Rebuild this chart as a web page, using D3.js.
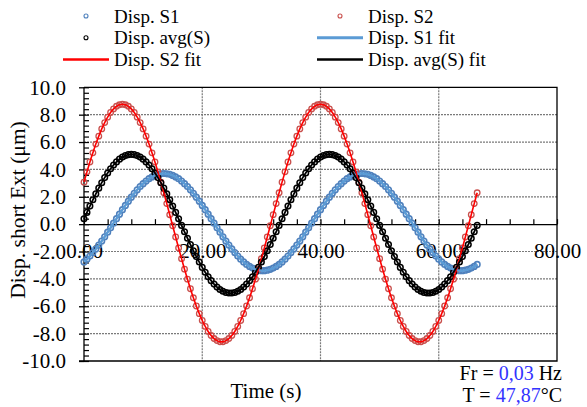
<!DOCTYPE html>
<html><head><meta charset="utf-8">
<script src="https://cdn.jsdelivr.net/npm/d3@7"></script>
<style>
body{margin:0;background:#fff}
svg{display:block}
text{font-family:"Liberation Serif","Times New Roman",serif;fill:#000}
</style>
</head><body>
<svg id="chart" width="587" height="407"></svg>
<script>
// ---------- data ----------
const sampleStep = 0.5; // seconds between samples, starting at t = 0
const dispS1 = [
-2.76,-2.56,-2.33,-2.08,-1.81,-1.53,-1.23,-0.92,-0.59,-0.27,
0.07,0.40,0.73,1.06,1.37,1.68,1.97,2.25,2.51,2.75,
2.96,3.15,3.32,3.45,3.56,3.64,3.68,3.70,3.68,3.64,
3.56,3.45,3.32,3.15,2.96,2.75,2.51,2.25,1.97,1.68,
1.37,1.06,0.73,0.40,0.07,-0.27,-0.59,-0.92,-1.23,-1.53,
-1.81,-2.08,-2.33,-2.56,-2.76,-2.94,-3.09,-3.21,-3.30,-3.36,
-3.40,-3.40,-3.36,-3.30,-3.21,-3.09,-2.94,
-2.76,-2.56,-2.33,-2.08,-1.81,-1.53,-1.23,-0.92,-0.59,-0.27,
0.07,0.40,0.73,1.06,1.37,1.68,1.97,2.25,2.51,2.75,
2.96,3.15,3.32,3.45,3.56,3.64,3.68,3.70,3.68,3.64,
3.56,3.45,3.32,3.15,2.96,2.75,2.51,2.25,1.97,1.68,
1.37,1.06,0.73,0.40,0.07,-0.27,-0.59,-0.92,-1.23,-1.53,
-1.81,-2.08,-2.33,-2.56,-2.76,-2.94,-3.09,-3.21,-3.30,-3.36,
-3.40,-3.40,-3.36,-3.30,-3.21,-3.09,-2.94
];
const dispS2 = [
3.07,3.82,4.54,5.21,5.85,6.43,6.96,7.42,7.82,8.16,
8.42,8.61,8.72,8.76,8.72,8.61,8.42,8.16,7.82,7.42,
6.96,6.43,5.85,5.21,4.54,3.82,3.07,2.29,1.50,0.69,
-0.12,-0.94,-1.74,-2.52,-3.29,-4.02,-4.72,-5.38,-5.98,-6.54,
-7.04,-7.47,-7.84,-8.14,-8.36,-8.51,-8.59,-8.59,-8.51,-8.36,
-8.14,-7.84,-7.47,-7.04,-6.54,-5.98,-5.38,-4.72,-4.02,-3.29,
-2.52,-1.74,-0.94,-0.12,0.69,1.50,2.29,
3.07,3.82,4.54,5.21,5.85,6.43,6.96,7.42,7.82,8.16,
8.42,8.61,8.72,8.76,8.72,8.61,8.42,8.16,7.82,7.42,
6.96,6.43,5.85,5.21,4.54,3.82,3.07,2.29,1.50,0.69,
-0.12,-0.94,-1.74,-2.52,-3.29,-4.02,-4.72,-5.38,-5.98,-6.54,
-7.04,-7.47,-7.84,-8.14,-8.36,-8.51,-8.59,-8.59,-8.51,-8.36,
-8.14,-7.84,-7.47,-7.04,-6.54,-5.98,-5.38,-4.72,-4.02,-3.29,
-2.52,-1.74,-0.94,-0.12,0.69,1.50,2.29
];
const dispAvg = [
0.39,0.86,1.32,1.78,2.21,2.63,3.03,3.40,3.74,4.05,
4.32,4.55,4.75,4.90,5.01,5.08,5.10,5.08,5.01,4.90,
4.75,4.55,4.32,4.05,3.74,3.40,3.03,2.63,2.21,1.78,
1.32,0.86,0.39,-0.09,-0.56,-1.03,-1.49,-1.94,-2.37,-2.77,
-3.16,-3.51,-3.84,-4.13,-4.38,-4.60,-4.77,-4.90,-4.99,-5.03,
-5.03,-4.99,-4.90,-4.77,-4.60,-4.38,-4.13,-3.84,-3.51,-3.16,
-2.77,-2.37,-1.94,-1.49,-1.03,-0.56,-0.09,
0.39,0.86,1.32,1.78,2.21,2.63,3.03,3.40,3.74,4.05,
4.32,4.55,4.75,4.90,5.01,5.08,5.10,5.08,5.01,4.90,
4.75,4.55,4.32,4.05,3.74,3.40,3.03,2.63,2.21,1.78,
1.32,0.86,0.39,-0.09,-0.56,-1.03,-1.49,-1.94,-2.37,-2.77,
-3.16,-3.51,-3.84,-4.13,-4.38,-4.60,-4.77,-4.90,-4.99,-5.03,
-5.03,-4.99,-4.90,-4.77,-4.60,-4.38,-4.13,-3.84,-3.51,-3.16,
-2.77,-2.37,-1.94,-1.49,-1.03,-0.56,-0.09
];
const xTickValues = [0, 20, 40, 60, 80];
const yTickValues = [-10, -8, -6, -4, -2, 0, 2, 4, 6, 8, 10];
const legendLabels = ["Disp. S1", "Disp. S2", "Disp. avg(S)", "Disp. S1 fit", "Disp. S2 fit", "Disp. avg(S) fit"];
const xTitle = "Time (s)";
const yTitle = "Disp. short Ext (\u03BCm)";
const freqText = ["Fr = ", "0,03", " Hz"];
const tempText = ["T = ", "47,87", "\u00B0C"];

// ---------- drawing ----------
const svg = d3.select("#chart");
const x = d3.scaleLinear().domain([0, 80]).range([84, 557]);
const y = d3.scaleLinear().domain([-10, 10]).range([361, 87.3]);
const tOf = i => i * sampleStep;

const C = {
  s1m: "#4F81BD", s2m: "#C9504D", avm: "#000000",
  s1f: "#5B9BD5", s2f: "#FF0000", avf: "#000000",
  grid: "#7a7a7a", blue: "#3333FF"
};

// grid lines
const grid = svg.append("g");
grid.selectAll("line.h").data(yTickValues.filter(v => v !== 0 && Math.abs(v) !== 10))
  .enter().append("line")
  .attr("x1", x(0)).attr("x2", x(80))
  .attr("y1", d => y(d)).attr("y2", d => y(d))
  .attr("stroke", C.grid).attr("stroke-width", 1.2).attr("stroke-dasharray", "2,1");
grid.selectAll("line.v").data(xTickValues.filter(v => v !== 0 && v !== 80))
  .enter().append("line")
  .attr("x1", d => x(d)).attr("x2", d => x(d))
  .attr("y1", y(10)).attr("y2", y(-10))
  .attr("stroke", C.grid).attr("stroke-width", 1.2).attr("stroke-dasharray", "2,1");

// border (top, right, bottom)
svg.append("path")
  .attr("d", `M${x(0)},${y(10)}H${x(80)}V${y(-10)}H${x(0) - 5}`)
  .attr("fill", "none").attr("stroke", "#000").attr("stroke-width", 1.3);

// y axis
const yAxis = svg.append("g").attr("transform", `translate(${x(0)},0)`)
  .call(d3.axisLeft(y).tickValues(yTickValues).tickFormat(d => d.toFixed(1))
    .tickSize(5).tickSizeOuter(0).tickPadding(13));
yAxis.selectAll("text").style("font-size", "21px").attr("fill", "#000");
yAxis.selectAll("line, path").attr("stroke", "#000").attr("stroke-width", 1.3);
yAxis.select(".domain").attr("d", `M0,${y(10)}V${y(-10)}`);
const yMinor = svg.append("g").attr("transform", `translate(${x(0)},0)`)
  .call(d3.axisRight(y).tickValues(d3.range(-10, 10.001, 0.4)).tickSize(5).tickFormat(""));
yMinor.select(".domain").remove();
yMinor.selectAll("line").attr("stroke", "#000").attr("stroke-width", 1.2);

// x axis at zero
const xAxis = svg.append("g").attr("transform", `translate(0,${y(0)})`)
  .call(d3.axisBottom(x).tickValues(xTickValues).tickFormat(d => d.toFixed(2))
    .tickSize(0).tickSizeOuter(0).tickPadding(19));
xAxis.selectAll("text").style("font-size", "21px").attr("fill", "#000");
xAxis.select(".domain").attr("stroke", "#000").attr("stroke-width", 1.3);
const xMinor = svg.append("g").attr("transform", `translate(0,${y(0)})`)
  .call(d3.axisTop(x).tickValues(d3.range(0, 80.001, 4)).tickSize(5).tickFormat(""));
xMinor.select(".domain").remove();
xMinor.selectAll("line").attr("stroke", "#000").attr("stroke-width", 1.2);

// series
const plot = svg.append("g");
function markers(data, color, sw) {
  plot.append("g").selectAll("circle").data(data).enter().append("circle")
    .attr("cx", (d, i) => x(tOf(i))).attr("cy", d => y(d)).attr("r", 2.8)
    .attr("fill", "none").attr("stroke", color).attr("stroke-width", sw);
}
const lineGen = d3.line().x((d, i) => x(tOf(i))).y(d => y(d)).curve(d3.curveCatmullRom);
function fit(data, color, w) {
  plot.append("path").datum(data).attr("d", lineGen)
    .attr("fill", "none").attr("stroke", color).attr("stroke-width", w);
}
markers(dispS1, C.s1m, 1.6);
markers(dispS2, C.s2m, 1.3);
markers(dispAvg, C.avm, 1.5);
fit(dispS1, C.s1f, 2.5);
fit(dispS2, C.s2f, 1.6);
fit(dispAvg, C.avf, 1.8);

// legend
const legStyles = [
  {kind: "m", color: C.s1m}, {kind: "m", color: C.s2m}, {kind: "m", color: C.avm},
  {kind: "l", color: C.s1f, w: 3}, {kind: "l", color: C.s2f, w: 2.5}, {kind: "l", color: C.avf, w: 2.5}
];
const colX = [86, 340], rowY = [16, 37.7, 59.4];
const leg = svg.append("g");
legendLabels.forEach((lab, i) => {
  const cx = colX[i % 2], cy = rowY[Math.floor(i / 2)], st = legStyles[i];
  if (st.kind === "m") {
    leg.append("circle").attr("cx", cx).attr("cy", cy).attr("r", 2)
      .attr("fill", "none").attr("stroke", st.color).attr("stroke-width", 1.1);
  } else {
    leg.append("line").attr("x1", cx - 23).attr("x2", cx + 23).attr("y1", cy).attr("y2", cy)
      .attr("stroke", st.color).attr("stroke-width", st.w);
  }
  leg.append("text").attr("x", cx + 28).attr("y", cy + 6.7)
    .style("font-size", "19px").text(lab);
});

// axis titles
svg.append("text").attr("x", 266).attr("y", 398).attr("text-anchor", "middle")
  .style("font-size", "21px").text(xTitle);
svg.append("text").attr("transform", "translate(25,210) rotate(-90)").attr("text-anchor", "middle")
  .style("font-size", "21.5px").text(yTitle);

// annotation
function note(parts, yy) {
  const t = svg.append("text").attr("x", 562).attr("y", yy).attr("text-anchor", "end")
    .style("font-size", "20px").style("white-space", "pre");
  parts.forEach((p, i) => t.append("tspan").attr("fill", i === 1 ? C.blue : "#000").text(p));
}
note(freqText, 379.5);
note(tempText, 401.5);
</script>
</body></html>
